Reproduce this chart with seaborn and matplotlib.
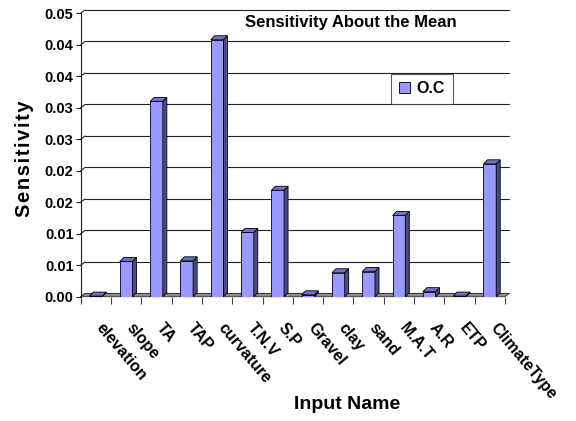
import matplotlib
matplotlib.use("Agg")
import matplotlib.pyplot as plt
import numpy as np
import pandas as pd
import seaborn as sns
from matplotlib import font_manager
from matplotlib.patches import Polygon, Patch
from matplotlib.transforms import ScaledTranslation

# ---- data -------------------------------------------------------------
inputs = ["elevation", "slope", "TA", "TAP", "curvature", "T.N.V", "S.P",
          "Gravel", "clay", "sand", "M.A.T", "A.R", "ETP", "ClimateType"]
sensitivity = [0.0001, 0.0056, 0.0310, 0.0057, 0.0408, 0.0102, 0.0169,
               0.0003, 0.0038, 0.0040, 0.0129, 0.0008, 0.0001, 0.0211]
y_ticks = [0.000, 0.005, 0.010, 0.015, 0.020, 0.025, 0.030, 0.035, 0.040, 0.045]
y_tick_labels = ["0.00", "0.01", "0.01", "0.02", "0.02",
                 "0.03", "0.03", "0.04", "0.04", "0.05"]
series_name = "O.C"

# ---- style ------------------------------------------------------------
FRONT = "#9999FF"
TOP = "#7070C8"
SIDE = "#4A4A8C"
FLOOR = "#8C8C8C"

sns.set_theme(style="white")
names = {f.name for f in font_manager.fontManager.ttflist}
NARROW = "Liberation Sans Narrow" if "Liberation Sans Narrow" in names else "Liberation Sans"
plt.rcParams["font.family"] = ["Liberation Sans", "DejaVu Sans"]
for key in ["text.color", "axes.labelcolor", "xtick.color", "ytick.color"]:
    plt.rcParams[key] = "black"

W, H, DPI = 576, 421, 100
fig = plt.figure(figsize=(W / DPI, H / DPI), dpi=DPI)
fig.patch.set_facecolor("white")

ax_left, ax_right, ax_bottom, ax_top = 80.7, 505.0, 296.7, 13.3
ax = fig.add_axes([ax_left / W, 1 - ax_bottom / H,
                   (ax_right - ax_left) / W, (ax_bottom - ax_top) / H])
ax.set_facecolor("none")

xmin, xmax = -0.5, len(inputs) - 0.5
ymin, ymax = 0.0, 0.045
ax.set_xlim(xmin, xmax)
ax.set_ylim(ymin, ymax)

px_x = (xmax - xmin) / (ax_right - ax_left)      # data units per pixel (x)
px_y = (ymax - ymin) / (ax_bottom - ax_top)      # data units per pixel (y)

# ---- back wall gridlines and floor -----------------------------------
wall_dx, wall_dy = 4.3 * px_x, 3.3 * px_y
for t in y_ticks:
    ax.plot([xmin, xmin + wall_dx], [t, t + wall_dy], color="#222222",
            lw=0.8, zorder=1, clip_on=False)
    ax.plot([xmin + wall_dx, xmax + wall_dx], [t + wall_dy, t + wall_dy],
            color="#222222", lw=0.8, zorder=1, clip_on=False)

floor = Polygon([(xmin, 0), (xmax, 0), (xmax + wall_dx, wall_dy),
                 (xmin + wall_dx, wall_dy)], closed=True,
                facecolor=FLOOR, edgecolor="#333333", lw=0.6, zorder=2,
                clip_on=False)
ax.add_patch(floor)

# ---- bars -------------------------------------------------------------
df = pd.DataFrame({"Input": inputs, "Sensitivity": sensitivity})
sns.barplot(data=df, x="Input", y="Sensitivity", color=FRONT, saturation=1,
            width=0.42, errorbar=None, edgecolor="black", linewidth=0.6,
            ax=ax, zorder=3)

bar_dx, bar_dy = 4.0 * px_x, 4.0 * px_y
for p in list(ax.patches):
    if p is floor:
        continue
    x0, w, h = p.get_x(), p.get_width(), p.get_height()
    top = Polygon([(x0, h), (x0 + w, h), (x0 + w + bar_dx, h + bar_dy),
                   (x0 + bar_dx, h + bar_dy)], closed=True, facecolor=TOP,
                  edgecolor="black", lw=0.6, zorder=3, clip_on=False)
    side = Polygon([(x0 + w, 0), (x0 + w + bar_dx, bar_dy),
                    (x0 + w + bar_dx, h + bar_dy), (x0 + w, h)], closed=True,
                   facecolor=SIDE, edgecolor="black", lw=0.6, zorder=3,
                   clip_on=False)
    ax.add_patch(side)
    ax.add_patch(top)

# ---- axes -------------------------------------------------------------
for s in ["top", "right", "bottom"]:
    ax.spines[s].set_visible(False)
ax.spines["left"].set_color("#222222")
ax.spines["left"].set_linewidth(0.8)

ax.set_yticks(y_ticks)
ax.set_yticklabels(y_tick_labels, fontsize=10.5, fontweight="bold",
                   color="black")
ax.tick_params(axis="y", direction="out", length=3.6, width=0.8,
               color="#222222", pad=1.5, left=True)

# category ticks sit on the bar boundaries; names are slanted text below
ax.set_xticks(np.arange(xmin, xmax + 0.01, 1.0))
ax.set_xticklabels([])
ax.tick_params(axis="x", direction="out", length=5, width=0.8,
               color="#444444", bottom=True)
label_shift = ScaledTranslation(9 / DPI, -24 / DPI, fig.dpi_scale_trans)
for i, name in enumerate(inputs):
    ax.text(i, 0, name, transform=ax.get_xaxis_transform() + label_shift,
            rotation=-50, ha="left", va="top", rotation_mode="anchor",
            fontsize=11.5, fontweight="bold", color="black",
            family=[NARROW, "DejaVu Sans"], clip_on=False)
ax.set_xlabel("")
ax.set_ylabel("")

# ---- text -------------------------------------------------------------
fig.text(350.5 / W, 1 - 27.3 / H, "Sensitivity About the Mean",
         ha="center", va="baseline", fontsize=12, fontweight="bold",
         color="black")
fig.text(347.5 / W, 1 - 404.5 / H, "Input Name", ha="center", va="center",
         fontsize=14, fontweight="bold", color="black",
         family=[NARROW, "DejaVu Sans"])
fig.text(24.7 / W, 1 - 159 / H, "\u200a".join("Sensitivity"), rotation=90,
         ha="center", va="center", fontsize=14.5, fontweight="bold",
         color="black", family=[NARROW, "DejaVu Sans"])

handle = Patch(facecolor=FRONT, edgecolor="black", linewidth=0.6)
leg = ax.legend([handle], [series_name], loc="upper left",
                bbox_to_anchor=((391 - ax_left) / (ax_right - ax_left),
                                (ax_bottom - 73.5) / (ax_bottom - ax_top)),
                frameon=True, fancybox=False, shadow=False,
                prop={"weight": "bold", "size": 11.5},
                handlelength=0.7, handleheight=0.7, handletextpad=0.4,
                borderpad=0.5, borderaxespad=0)
leg.get_frame().set_edgecolor("#333333")
leg.get_frame().set_linewidth(0.8)
for txt in leg.get_texts():
    txt.set_color("black")
leg.set_zorder(5)

fig.savefig("out.png", dpi=DPI, facecolor="white")
